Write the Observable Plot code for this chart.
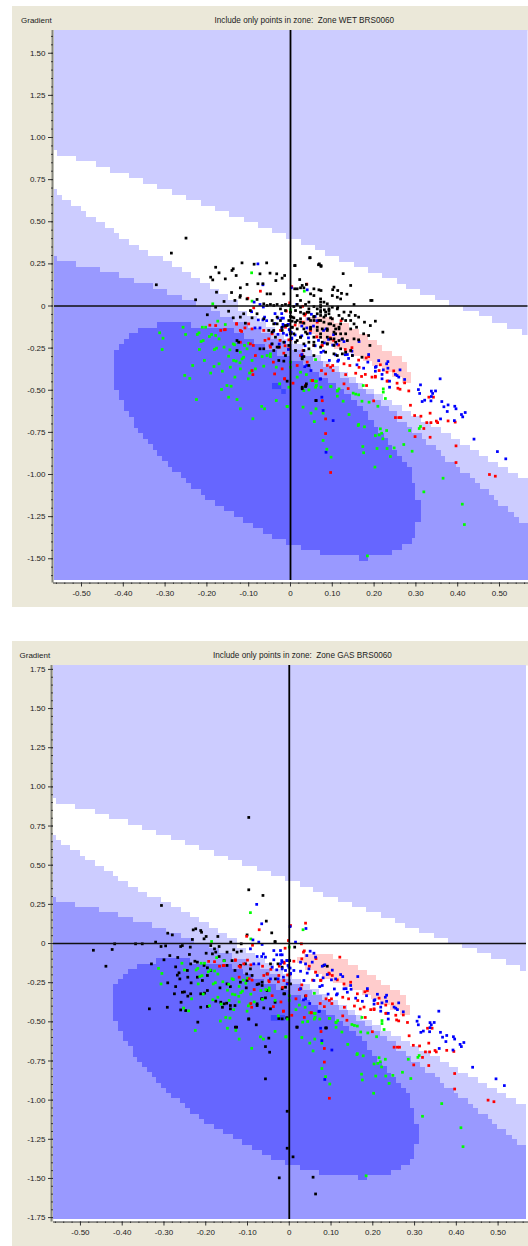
<!DOCTYPE html>
<html>
<head>
<meta charset="utf-8">
<style>
html,body{margin:0;padding:0;background:#fff;}
#page{position:relative;width:528px;height:1246px;overflow:hidden;font-family:"Liberation Sans",Arial,sans-serif;}
.panel{position:absolute;left:12px;width:516px;background:#ebe8d9;}
.panel svg{position:absolute;left:0;top:0;background:transparent;}
.lab{position:absolute;font-size:8px;line-height:10px;color:#222;white-space:nowrap;}
.ttl{font-size:8.2px;}
</style>
<script src="https://cdn.jsdelivr.net/npm/d3@7"></script>
<script src="https://cdn.jsdelivr.net/npm/@observablehq/plot@0.6"></script>
</head>
<body>
<div id="page"></div>
<script>
// Zone boundaries, as [x, y] stair vertices
const upperEdge=[[-.567,.923],[-.557,.887],[-.512,.855],[-.465,.823],[-.431,.789],[-.384,.756],[-.351,.724],[-.317,.691],[-.282,.655],[-.248,.626],[-.214,.592],[-.180,.558],[-.146,.527],[-.111,.493],[-.077,.457],[-.043,.428],[-.009,.394],[.026,.360],[.059,.328],[.083,.295],[.117,.261],[.152,.229],[.186,.195],[.220,.161],[.255,.128],[.278,.096],[.312,.062],[.347,.031],[.381,-.002],[.415,-.034],[.451,-.065],[.484,-.104],[.519,-.14],[.554,-.177]];
const whiteEdge=[[-.567,.691],[-.557,.658],[-.546,.626],[-.523,.592],[-.500,.558],[-.488,.527],[-.465,.493],[-.442,.459],[-.420,.428],[-.409,.394],[-.386,.360],[-.362,.328],[-.339,.295],[-.305,.264],[-.283,.230],[-.259,.201],[-.237,.165],[-.215,.132],[-.191,.096],[-.169,.066],[-.148,.033],[-.124,0],[-.124,-.03],[-.103,-.063],[-.080,-.096],[-.058,-.13],[-.036,-.163],[-.014,-.196],[.008,-.229],[.030,-.262],[.052,-.295],[.073,-.328],[.095,-.361],[.117,-.394],[.139,-.427],[.158,-.460],[.175,-.493],[.2,-.526],[.222,-.559],[.245,-.592],[.268,-.625],[.290,-.658],[.313,-.69],[.338,-.723],[.362,-.759],[.384,-.794],[.406,-.828],[.430,-.858],[.453,-.893],[.474,-.927],[.498,-.957],[.521,-.992],[.545,-1.026]];
const lightEdge=[[-.567,.295],[-.557,.262],[-.512,.230],[-.455,.201],[-.409,.165],[-.373,.132],[-.328,.096],[-.294,.062],[-.259,.033],[-.226,0],[-.19,-.03],[-.167,-.066],[-.136,-.099],[-.1,-.132],[-.07,-.165],[-.045,-.198],[-.02,-.231],[.005,-.264],[.03,-.297],[.056,-.33],[.08,-.363],[.1,-.396],[.12,-.429],[.142,-.462],[.162,-.495],[.183,-.528],[.2,-.561],[.218,-.594],[.236,-.627],[.257,-.69],[.280,-.723],[.292,-.759],[.315,-.794],[.326,-.828],[.350,-.858],[.362,-.893],[.372,-.927],[.396,-.957],[.406,-.992],[.430,-1.026],[.442,-1.055],[.454,-1.09],[.476,-1.125],[.487,-1.155],[.498,-1.19],[.521,-1.224],[.535,-1.253],[.547,-1.288]];
const coreTop=[[-.42,-.264],[-.409,-.23],[-.396,-.199],[-.385,-.165],[-.363,-.132],[-.317,-.098],[-.237,-.132],[-.135,-.165],[-.11,-.198],[-.085,-.231],[-.06,-.264],[-.03,-.297],[0,-.33],[.03,-.363],[.05,-.396],[.07,-.429],[.09,-.462],[.11,-.495],[.13,-.528],[.145,-.561],[.16,-.594],[.175,-.627],[.187,-.68],[.2,-.723],[.211,-.759],[.224,-.788],[.235,-.828],[.245,-.858],[.257,-.893],[.268,-.927],[.28,-.957],[.291,-1.055],[.30,-1.155],[.313,-1.155]];
const coreBottom=[[-.42,-.50],[-.409,-.561],[-.396,-.626],[-.385,-.66],[-.373,-.725],[-.363,-.759],[-.351,-.792],[-.34,-.824],[-.328,-.858],[-.317,-.891],[-.306,-.923],[-.293,-.957],[-.283,-.99],[-.26,-1.022],[-.249,-1.055],[-.237,-1.089],[-.214,-1.125],[-.203,-1.154],[-.179,-1.188],[-.157,-1.22],[-.133,-1.253],[-.112,-1.289],[-.088,-1.322],[-.065,-1.356],[-.042,-1.386],[-.01,-1.42],[.026,-1.451],[.072,-1.481],[.165,-1.515],[.187,-1.481],[.245,-1.451],[.268,-1.417],[.291,-1.382],[.30,-1.286],[.313,-1.286]];
const pinkTop=[[.02,-.087],[.037,-.07],[.105,-.104],[.141,-.14],[.165,-.17],[.187,-.204],[.209,-.237],[.221,-.27],[.243,-.30],[.267,-.333],[.28,-.393],[.29,-.393]];
const pinkBottom=[[.02,-.13],[.04,-.17],[.06,-.2],[.08,-.23],[.106,-.256],[.13,-.28],[.152,-.30],[.175,-.33],[.196,-.36],[.219,-.393],[.243,-.426],[.267,-.458],[.29,-.458]];
const patchWet=[{x1:-.043,x2:-.021,y1:-.46,y2:-.496},{x1:-.021,x2:-.01,y1:-.496,y2:-.525}];
const patchGas=[{x1:-.043,x2:-.009,y1:-.46,y2:-.496}];

// Point series
const bluePts=[[.358,-.432],[.311,-.468],[.306,-.496],[.309,-.519],[.337,-.505],[.347,-.504],[.340,-.519],[.337,-.537],[.321,-.559],[.315,-.567],[.336,-.563],[.362,-.567],[.377,-.587],[.367,-.598],[.393,-.595],[.396,-.610],[.375,-.626],[.409,-.644],[.418,-.632],[.412,-.658],[.359,-.670],[.392,-.680],[.439,-.790],[.495,-.864],[.515,-.907],[.075,-.541],[.078,-.620],[.102,-.680],[.085,-.868],[.159,-.349],[.175,-.369],[.185,-.333],[.187,-.288],[.203,-.387],[.205,-.359],[.211,-.324],[.233,-.330],[.230,-.343],[.222,-.379],[.233,-.369],[.219,-.432],[.237,-.482],[.262,-.379],[.255,-.413],[.259,-.422],[.273,-.436],[.237,-.446],[.148,-.292],[.136,-.288],[.093,-.323],[.108,-.290],[.072,-.432],[.049,-.383],[.015,.009],[.05,-.049],[.059,-.062],[.063,-.087],[.042,-.077],[.027,-.119],[.039,-.13],[.055,-.119],[.079,-.145],[.085,-.136],[.103,-.17],[.091,-.198],[.067,-.204],[.059,-.236],[.043,-.189],[.027,-.177],[.081,-.219],[.123,-.198],[.128,-.211],[.101,-.232],[.111,-.226],[.147,-.268],[.131,-.289],[.164,-.211],[.113,-.328],[.073,-.275],[.027,-.289],[.039,-.353],[.034,-.36],[.071,-.434],[-.017,-.072],[-.018,-.109],[-.006,-.109],[-.003,-.14],[.002,-.157],[-.017,-.162],[.003,-.19],[-.014,-.215],[-.066,.126],[-.087,.023],[-.073,.009],[-.065,-.006],[-.093,-.034],[-.062,-.066],[-.077,-.083],[-.066,-.083],[-.057,-.087],[-.037,-.045],[-.021,-.045],[-.03,-.072],[-.021,-.072],[-.037,-.104],[-.017,-.119],[-.041,-.151],[-.021,-.13],[-.03,-.168],[-.005,-.109],[-.001,-.151],[.003,-.194],[-.009,-.172],[-.027,-.226],[-.045,-.226],[-.005,-.258],[-.085,-.13],[-.073,-.13],[.04,.096],[-.078,.25],[.002,.108],[.011,-.172],[.047,-.162],[.035,-.236],[.079,-.268],[.115,-.321],[.139,-.311],[.203,-.364],[.219,-.406],[.251,-.406]];
const redPts=[[.283,-.504],[.257,-.488],[.262,-.494],[.287,-.589],[.331,-.541],[.342,-.541],[.199,-.563],[.297,-.650],[.312,-.654],[.334,-.636],[.251,-.662],[.259,-.662],[.264,-.662],[.326,-.692],[.336,-.692],[.349,-.683],[.352,-.692],[.377,-.682],[.394,-.689],[.319,-.727],[.298,-.775],[.334,-.779],[.396,-.830],[.396,-.929],[.476,-1.0],[.490,-1.01],[.084,-.670],[.084,-.757],[.096,-.988],[.181,-.308],[.195,-.422],[.203,-.422],[.182,-.472],[.128,-.462],[.138,-.490],[.084,-.403],[.102,-.383],[.132,-.407],[.156,-.399],[.170,-.418],[.215,-.349],[.231,-.446],[.255,-.458],[.273,-.456],[.212,-.383],[.231,-.393],[.142,-.353],[.128,-.343],[.096,-.363],[.074,-.383],[.052,-.442],[.036,-.472],[.006,-.458],[-.014,-.432],[.028,-.288],[.04,-.333],[0,-.2],[-.072,.088],[-.102,.046],[-.129,-.108],[-.092,-.136],[-.158,-.141],[-.167,-.145],[-.179,-.116],[-.193,-.114],[-.12,-.145],[-.12,-.215],[-.089,-.234],[-.096,-.225],[-.064,-.145],[-.052,-.195],[-.044,-.165],[-.024,-.145],[-.012,-.126],[-.004,-.201],[-.048,-.244],[-.026,-.244],[-.004,-.254],[-.016,-.28],[-.041,-.333],[-.084,-.294],[-.092,-.383],[-.09,-.407],[-.038,-.403],[-.02,-.373],[-.014,-.432],[.053,-.442],[.076,-.562],[.03,-.264],[.024,-.294],[.016,-.353],[.048,-.145],[.036,-.047],[.064,-.096],[.096,-.195],[.076,-.234],[.056,-.234],[.101,-.353],[.088,-.353],[-.1,-.106],[-.088,-.011],[.003,.115],[.039,.13],[-.002,.019],[.029,-.002],[-.01,-.03],[.121,-.087],[.03,-.098],[.011,-.113],[-.013,-.119],[.034,-.055],[.075,-.236],[.063,-.183],[.095,-.189],[.103,-.204],[.115,-.232],[.131,-.258],[.147,-.247],[.163,-.321],[.187,-.3],[.164,-.364],[.179,-.406],[.203,-.417],[.247,-.385],[.233,-.445],[-.129,-.104],[-.156,-.14],[-.117,-.151],[-.109,-.13],[-.061,-.204],[-.049,-.236],[-.025,-.204],[-.013,-.236]];
const greenPts=[[.097,-.478],[.116,-.492],[.112,-.502],[.112,-.535],[.126,-.565],[.150,-.517],[.156,-.523],[.163,-.527],[.174,-.472],[.171,-.565],[.188,-.571],[.209,-.595],[.227,-.549],[.222,-.492],[.222,-.511],[.140,-.644],[.163,-.703],[.162,-.709],[.177,-.717],[.215,-.729],[.230,-.739],[.218,-.755],[.212,-.765],[.203,-.769],[.221,-.788],[.285,-.739],[.311,-.715],[.308,-.727],[.271,-.822],[.291,-.862],[.173,-.834],[.175,-.871],[.207,-.846],[.231,-.846],[.248,-.842],[.239,-.893],[.202,-.956],[.365,-1.022],[.319,-1.103],[.411,-1.176],[.416,-1.297],[.184,-1.483],[.061,-.61],[.078,-.636],[.049,-.636],[.057,-.686],[.078,-.798],[.087,-.85],[.097,-.897],[-.008,-.596],[.03,-.6],[.06,-.446],[.062,-.472],[.06,-.318],[-.313,-.159],[-.305,-.191],[-.307,-.258],[-.257,-.126],[-.251,-.169],[-.211,-.126],[-.203,-.126],[-.219,-.159],[-.223,-.169],[-.214,-.211],[-.209,-.205],[-.194,-.181],[-.189,-.169],[-.179,-.175],[-.174,-.09],[-.186,.013],[-.156,-.11],[-.171,-.195],[-.218,-.258],[-.182,-.258],[-.177,-.25],[-.159,-.244],[-.145,-.26],[-.148,-.298],[-.137,-.225],[-.134,-.23],[-.13,-.327],[-.121,-.337],[-.136,-.323],[-.116,-.314],[-.104,-.254],[-.12,-.274],[-.11,-.234],[-.1,-.221],[-.112,-.304],[-.092,-.323],[-.068,-.3],[-.048,-.284],[-.048,-.3],[-.056,-.294],[-.206,-.323],[-.234,-.353],[-.183,-.359],[-.171,-.343],[-.191,-.398],[-.163,-.387],[-.144,-.363],[-.12,-.373],[-.084,-.373],[-.064,-.357],[-.133,-.422],[-.098,-.398],[-.094,-.387],[-.101,-.432],[-.253,-.412],[-.241,-.43],[-.152,-.472],[-.142,-.476],[-.165,-.495],[-.148,-.541],[-.225,-.555],[-.128,-.555],[-.12,-.61],[-.09,-.669],[-.069,-.596],[-.062,-.61],[-.034,-.561],[-.008,-.596],[-.004,-.482],[-.034,-.363],[-.026,-.462],[0,-.363],[0,-.333],[.024,-.393],[.016,-.422],[.038,-.407],[.049,-.442],[.062,-.446],[.06,-.482],[.044,-.498],[.032,-.502],[.073,-.482],[.096,-.478],[.112,-.505],[-.093,.197],[-.092,.029],[0,-.023],[.033,.088]];
const blackWet=[[.195,.033],[.152,.009],[.203,-.09],[.221,-.155],[.191,-.116],[.177,-.096],[.163,-.066],[.155,-.056],[.144,-.036],[.128,-.036],[.112,-.017],[.092,-.017],[.084,-.036],[.072,-.007],[.132,-.086],[.144,-.086],[.12,-.106],[.175,-.165],[.163,-.201],[.152,-.195],[.136,-.205],[.124,-.195],[.108,-.215],[.096,-.195],[.088,-.225],[.12,-.254],[.104,-.284],[.132,-.274],[.144,-.264],[.148,-.294],[.108,-.165],[.132,-.165],[.088,-.136],[.108,-.136],[.187,-.175],[.19,-.234],[.171,-.304],[.061,-.561],[.036,-.478],[.028,-.491],[.038,-.462],[.126,.192],[.047,.287],[.067,.245],[.073,.235],[.011,.24],[.144,.122],[.101,.097],[.122,.075],[.135,.07],[.192,.033],[-.25,.403],[-.285,.314],[-.321,.126],[-.227,.037],[-.179,.23],[-.171,.197],[-.191,.171],[-.186,.155],[-.156,.161],[-.14,.211],[-.137,.221],[-.13,.181],[-.116,.256],[-.087,.248],[-.057,.256],[-.049,.195],[-.033,.191],[-.02,.165],[-.014,.181],[-.035,.151],[-.073,.191],[-.104,.128],[-.078,.132],[-.066,.132],[-.12,.108],[-.177,.082],[-.141,.08],[-.12,.062],[-.121,.052],[-.104,.042],[-.056,.072],[-.048,.072],[-.016,.072],[-.08,.039],[-.064,.013],[-.133,.033],[-.159,.027],[-.179,-.007],[-.199,-.052],[-.148,-.031],[-.137,-.07],[-.108,-.102],[-.128,-.205],[.01,.24],[.046,.286],[.069,.25],[.073,.24],[.022,.157],[.038,.128],[.028,.122],[.01,.102],[.016,.102],[.024,.108],[.032,.108],[.016,.062],[.048,.072],[.056,.102],[.068,.096],[.073,.092],[.056,.062],[.104,.112],[.113,.092],[.072,.042],[.072,.023],[.072,.003],[.1,.062],[.112,.052],[.12,.042],[.024,.033],[.044,.023],[.056,-.003],[.08,.023],[.088,.013],[.1,-.007],[.113,-.007],[-.056,.003],[-.048,.009],[-.04,.003],[-.032,.009],[-.02,.003],[-.012,.009],[-.004,.003],[.008,-.003],[.016,.009],[.024,-.007],[.036,.009],[.044,-.017],[.064,-.017],[.072,-.027],[.081,-.023],[.092,-.027],[-.024,-.017],[-.012,-.027],[0,-.037],[.012,-.027],[.024,-.037],[.04,-.037],[.064,-.046],[.072,-.056],[.056,-.062],[.084,-.056],[.096,-.07],[0,-.062],[.008,-.07],[-.004,-.086],[.004,-.09],[.016,-.086],[.024,-.096],[.032,-.102],[.044,-.076],[.056,-.086],[.068,-.086],[.08,-.096],[.092,-.106],[.104,-.116],[.116,-.126],[-.008,-.116],[.004,-.126],[.016,-.136],[.032,-.136],[.048,-.126],[.064,-.126],[.076,-.136],[.088,-.145],[.104,-.155],[.12,-.165],[-.044,-.086],[-.032,-.106],[-.064,-.076],[-.08,-.046],[-.052,-.145],[-.04,-.145],[-.02,-.126],[.008,-.165],[.024,-.185],[.04,-.165],[.056,-.185],[.072,-.165],[.088,-.185],[.104,-.195],[.116,-.205],[.016,-.205],[.032,-.225],[.044,-.215],[.056,-.234],[.076,-.215],[.088,-.225],[.104,-.234],[-.044,-.225],[-.032,-.244],[-.128,-.264],[-.124,-.215],[-.073,-.254],[-.064,-.254],[-.028,-.323],[-.016,-.327],[-.008,-.446],[.032,-.3],[.028,-.314],[.044,-.353],[.028,-.482],[.037,-.472],[.061,-.561],[-.112,-.046],[-.096,-.027],[-.092,-.07],[-.12,-.066],[.072,-.037],[.08,-.066],[.092,-.046],[.1,-.076],[.116,-.056],[.124,-.076],[.14,-.056],[.152,-.106],[.158,-.126],[.144,-.136],[.116,-.136],[.096,-.106],[.072,-.086],[.056,-.066],[.048,-.086],[.044,-.037],[.032,-.046],[.024,-.076],[.012,-.096],[.004,-.066],[.064,-.145],[.048,-.136],[.036,-.155],[.024,-.185],[.012,-.215],[0,-.165],[.004,-.126],[-.012,-.116],[-.02,-.145],[-.024,-.086],[-.032,-.066],[-.04,-.106],[-.044,-.155],[-.036,-.185],[.072,-.185],[.056,-.215],[.044,-.254],[.032,-.264],[.072,-.244],[.084,-.274],[.056,-.294],[.112,-.294],[.124,-.284],[.028,-.304],[.012,-.264],[-.004,-.234],[-.016,-.215],[-.028,-.244],[-.04,-.264],[-.012,-.294]];
const blackGas=[[-.097,.805],[-.097,.343],[-.063,.307],[-.306,.243],[-.055,.143],[-.042,.068],[-.291,.066],[-.28,.055],[-.23,.087],[-.224,.094],[-.212,.083],[-.21,.072],[-.171,.045],[-.199,.045],[-.204,.03],[-.232,.026],[-.101,.055],[-.034,.013],[-.14,.009],[-.115,-.002],[-.32,.009],[-.352,-.002],[-.368,-.002],[-.418,-.002],[-.469,-.043],[-.424,-.038],[-.439,-.145],[-.307,-.019],[-.296,-.015],[-.26,-.019],[-.256,-.013],[-.237,-.023],[-.188,-.013],[-.179,-.034],[-.168,-.019],[-.199,-.062],[-.184,-.066],[-.176,-.055],[-.168,-.083],[-.239,-.07],[-.286,-.077],[-.267,-.089],[-.3,-.104],[-.33,-.13],[-.272,-.149],[-.264,-.187],[-.268,-.202],[-.262,-.226],[-.291,-.251],[-.243,-.215],[-.244,-.172],[-.226,-.113],[-.236,-.13],[-.22,-.119],[-.204,-.14],[-.196,-.155],[-.188,-.172],[-.196,-.204],[-.208,-.236],[-.22,-.215],[-.235,-.251],[-.272,-.275],[-.275,-.321],[-.256,-.311],[-.251,-.309],[-.243,-.336],[-.236,-.321],[-.212,-.321],[-.203,-.317],[-.196,-.3],[-.176,-.368],[-.166,-.283],[-.259,-.375],[-.292,-.407],[-.335,-.417],[-.26,-.424],[-.248,-.428],[-.212,-.407],[-.196,-.402],[-.16,-.407],[-.15,-.381],[-.141,-.396],[-.13,-.396],[-.156,-.109],[-.149,-.055],[-.133,-.04],[-.125,-.055],[-.115,-.049],[-.137,-.109],[-.13,-.172],[-.117,-.14],[-.105,-.13],[-.093,-.162],[-.102,-.194],[-.117,-.247],[-.103,-.283],[-.077,-.262],[-.065,-.268],[-.066,-.353],[-.057,-.347],[-.077,-.396],[-.061,-.411],[-.045,-.417],[-.034,-.375],[-.011,-.321],[-.097,-.483],[-.219,-.502],[-.126,-.534],[-.079,-.519],[-.049,-.604],[-.057,-.658],[-.047,-.694],[-.057,-.864],[-.025,-.479],[-.006,-.475],[.019,-.534],[-.149,-.14],[-.141,-.275],[-.149,-.258],[-.005,-1.071],[-.005,-1.307],[.009,-1.362],[-.024,-1.496],[.057,-1.492],[.063,-1.599],[-.017,-.481],[-.005,-.475],[.087,-.539],[-.129,-.534],[-.034,.009],[-.027,-.13],[-.045,-.13],[-.053,-.194],[-.017,-.151],[.083,-.14],[.091,-.145],[.001,-.109],[.003,-.258],[-.009,-.279],[-.033,-.226],[-.065,-.247],[-.089,-.204],[-.101,-.236],[-.073,-.258],[-.065,-.353],[-.053,-.3],[-.077,-.385],[-.097,-.481],[-.141,-.417],[-.156,-.385],[-.164,-.375],[.089,-.539],[.018,-.534],[-.017,-.289],[-.013,-.321],[.039,-.336],[.013,-.023]];

// Axis tick values
const xLabelled=[-.5,-.4,-.3,-.2,-.1,0,.1,.2,.3,.4,.5];
const xMinor=d3.range(-28,29).map(i=>i*.02);
const yLabelledWet=[1.5,1.25,1,.75,.5,.25,0,-.25,-.5,-.75,-1,-1.25,-1.5];
const yLabelledGas=[1.75,...yLabelledWet,-1.75];
const yMinor=d3.range(-35,36).map(i=>i*.05);

const fmt=v=>v===0?"0":v.toFixed(2);
const stepAt=(list,x)=>list[Math.max(0,d3.bisectRight(list.map(d=>d[0]),x+1e-9)-1)][1];
function columns(top,bottom){
  const xs=[...new Set([...top,...bottom].map(d=>d[0]))].sort(d3.ascending);
  return xs.map(x=>({x,t:stepAt(top,x),b:stepAt(bottom,x)}));
}

function panel({top,height,gradX,zone,titleX,xDom,yDom,xRange,yRange,marginBottom,yTicks,black,blackFirst,patch}){
  const page=document.getElementById("page");
  const box=document.createElement("div");
  box.className="panel";box.style.top=top+"px";box.style.height=height+"px";
  const span=list=>[...list.map(d=>[Math.max(d[0],xDom[0]),d[1]]),[xDom[1],list[list.length-1][1]]];
  const zoneArea=(list,fill)=>Plot.areaY(span(list),{x:d=>d[0],y1:yDom[0],y2:d=>d[1],curve:"step-after",fill,shapeRendering:"crispEdges"});
  const dots=(pts,fill)=>Plot.dot(pts,{x:d=>d[0],y:d=>d[1],fill,symbol:"square",r:1.55});
  const inY=t=>t>=yDom[0]&&t<=yDom[1];
  const inX=t=>t>=xDom[0]&&t<=xDom[1];
  const colored=[dots(greenPts,"#00ff00"),dots(redPts,"#ff0000"),dots(bluePts,"#0000ff")];
  const blackDots=dots(black,"#000000");
  const svg=Plot.plot({
    width:516,height,
    marginLeft:41,marginRight:0,marginTop:24,marginBottom,
    style:{background:"transparent",fontFamily:"'Liberation Sans',Arial,sans-serif",fontSize:"8px",color:"#222"},
    x:{domain:xDom,range:xRange},
    y:{domain:yDom,range:yRange},
    marks:[
      Plot.frame({fill:"white",stroke:null}),
      Plot.rect([{x1:xDom[0],x2:xDom[1],y1:yDom[0],y2:yDom[1]}],{x1:"x1",x2:"x2",y1:"y1",y2:"y2",fill:"#ccccff"}),
      zoneArea(upperEdge,"white"),
      zoneArea(whiteEdge,"#ccccff"),
      zoneArea(lightEdge,"#9999ff"),
      Plot.areaY(columns(coreTop,coreBottom),{x:"x",y1:"b",y2:"t",curve:"step-after",fill:"#6666ff",shapeRendering:"crispEdges"}),
      Plot.areaY(columns(pinkTop,pinkBottom),{x:"x",y1:"b",y2:"t",curve:"step-after",fill:"#ffcccc",shapeRendering:"crispEdges"}),
      Plot.rect(patch,{x1:"x1",x2:"x2",y1:"y1",y2:"y2",fill:"#3d47ff"}),
      ...(blackFirst?[blackDots,...colored]:[...colored,blackDots]),
      Plot.ruleX([0],{y1:yDom[0],y2:yDom[1],stroke:"#000",strokeWidth:1.8}),
      Plot.ruleY([0],{x1:xDom[0],x2:xDom[1],stroke:"#111",strokeWidth:1.6}),
      Plot.ruleX([xDom[0]],{dx:-2,stroke:"#85857c",strokeWidth:2}),
      Plot.ruleY([yDom[0]],{dy:2.5,stroke:"#333",strokeWidth:1}),
      Plot.axisY({ticks:yMinor.filter(inY),tickSize:2,fill:"none",label:null,stroke:"#333"}),
      Plot.axisY({ticks:yTicks,tickSize:5,tickPadding:3,tickFormat:fmt,label:null,stroke:"#333",fill:"#222"}),
      Plot.axisX({ticks:xMinor.filter(inX),tickSize:1.5,fill:"none",label:null,stroke:"#333"}),
      Plot.axisX({ticks:xLabelled,tickSize:4,tickPadding:3,tickFormat:fmt,label:null,stroke:"#333",fill:"#222"})
    ]
  });
  box.appendChild(svg);
  const g=document.createElement("div");g.className="lab";g.textContent="Gradient";g.style.left=gradX+"px";g.style.top="10px";box.appendChild(g);
  const t=document.createElement("div");t.className="lab ttl";t.textContent="Include only points in zone:  Zone "+zone+" BRS0060";t.style.left=titleX+"px";t.style.top="10px";t.style.whiteSpace="pre";box.appendChild(t);
  page.appendChild(box);
}

panel({top:6,height:601,gradX:9,zone:"WET",titleX:202.5,
  xDom:[-.5646,.5682],yDom:[-1.629,1.635],xRange:[42,515.5],yRange:[574,24],marginBottom:24.5,
  yTicks:yLabelledWet,black:blackWet,blackFirst:false,patch:patchWet});
panel({top:641,height:605,gradX:7.5,zone:"GAS",titleX:201,
  xDom:[-.5645,.568],yDom:[-1.762,1.775],xRange:[41,514],yRange:[578,24],marginBottom:24.5,
  yTicks:yLabelledGas,black:blackGas,blackFirst:true,patch:patchGas});
</script>
</body>
</html>
